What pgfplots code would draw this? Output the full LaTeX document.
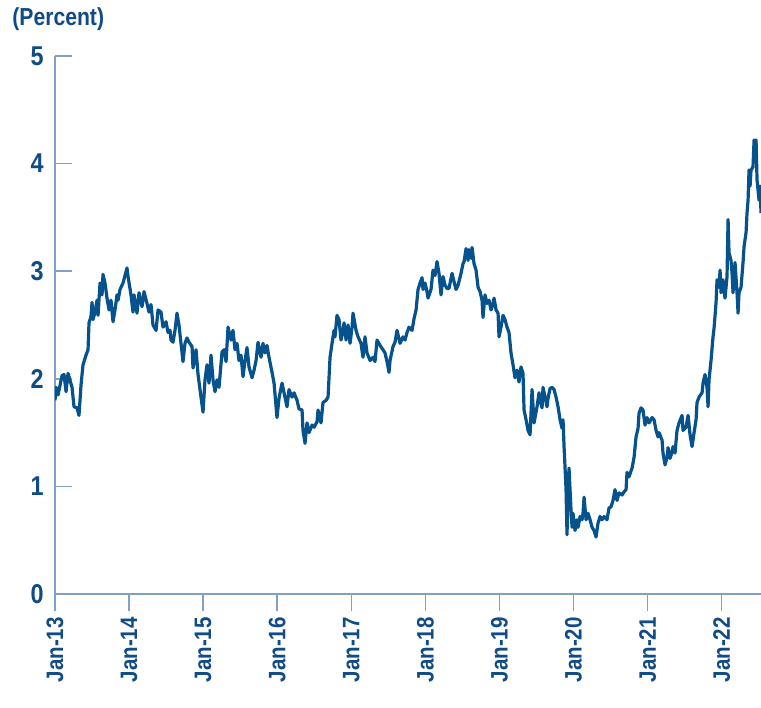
\documentclass[border=0pt]{standalone}
\usepackage{pgfplots}
\pgfplotsset{compat=1.18}
\usepackage{pgfplotstable}
\usepackage{fontspec}
\setmainfont{Liberation Sans}[FakeStretch=0.86]
\definecolor{txtblue}{RGB}{16,75,135}
\definecolor{lineblue}{RGB}{5,82,140}
\definecolor{axblue}{RGB}{128,160,202}
\pgfplotstableread{
x y
2013.000 1.80
2013.014 1.92
2013.041 1.85
2013.095 2.03
2013.122 2.04
2013.149 1.88
2013.176 2.05
2013.230 1.92
2013.257 1.74
2013.297 1.73
2013.324 1.66
2013.351 1.94
2013.378 2.13
2013.419 2.22
2013.446 2.27
2013.459 2.52
2013.486 2.58
2013.500 2.71
2013.513 2.55
2013.540 2.62
2013.567 2.73
2013.581 2.59
2013.608 2.89
2013.635 2.78
2013.648 2.97
2013.675 2.89
2013.702 2.75
2013.729 2.64
2013.756 2.73
2013.783 2.53
2013.810 2.64
2013.837 2.78
2013.851 2.73
2013.878 2.83
2013.918 2.89
2013.945 2.96
2013.972 3.03
2013.986 2.95
2014.026 2.78
2014.053 2.62
2014.067 2.78
2014.107 2.61
2014.134 2.80
2014.175 2.67
2014.202 2.81
2014.242 2.70
2014.269 2.62
2014.296 2.69
2014.323 2.50
2014.364 2.45
2014.391 2.64
2014.431 2.62
2014.458 2.48
2014.499 2.53
2014.526 2.43
2014.553 2.45
2014.566 2.36
2014.593 2.34
2014.620 2.45
2014.647 2.61
2014.674 2.50
2014.688 2.41
2014.728 2.16
2014.755 2.33
2014.782 2.38
2014.809 2.34
2014.850 2.30
2014.863 2.10
2014.904 2.27
2014.931 2.04
2014.971 1.83
2014.998 1.69
2015.025 1.99
2015.052 2.13
2015.079 1.96
2015.106 2.22
2015.133 1.99
2015.160 1.88
2015.187 1.99
2015.214 1.92
2015.255 2.25
2015.282 2.27
2015.309 2.16
2015.336 2.48
2015.376 2.36
2015.403 2.45
2015.430 2.27
2015.457 2.33
2015.484 2.17
2015.511 2.22
2015.538 2.02
2015.565 2.17
2015.592 2.29
2015.619 2.11
2015.660 2.01
2015.687 2.08
2015.714 2.17
2015.741 2.34
2015.781 2.20
2015.808 2.33
2015.835 2.24
2015.862 2.31
2015.889 2.20
2015.930 2.06
2015.957 1.96
2015.997 1.64
2016.024 1.82
2016.065 1.96
2016.092 1.87
2016.132 1.74
2016.159 1.90
2016.200 1.83
2016.227 1.87
2016.267 1.80
2016.294 1.72
2016.335 1.71
2016.348 1.52
2016.375 1.40
2016.402 1.59
2016.429 1.50
2016.470 1.57
2016.497 1.55
2016.537 1.60
2016.551 1.71
2016.591 1.59
2016.618 1.78
2016.659 1.80
2016.686 1.83
2016.713 2.20
2016.740 2.33
2016.767 2.45
2016.780 2.39
2016.807 2.59
2016.834 2.55
2016.861 2.36
2016.888 2.45
2016.902 2.52
2016.929 2.36
2016.956 2.50
2016.983 2.33
2017.010 2.48
2017.023 2.61
2017.064 2.45
2017.091 2.39
2017.131 2.33
2017.158 2.20
2017.185 2.39
2017.212 2.24
2017.253 2.17
2017.293 2.20
2017.320 2.16
2017.347 2.36
2017.388 2.31
2017.428 2.27
2017.455 2.24
2017.482 2.16
2017.509 2.06
2017.523 2.17
2017.563 2.30
2017.590 2.34
2017.617 2.45
2017.658 2.33
2017.698 2.39
2017.725 2.36
2017.752 2.43
2017.779 2.48
2017.820 2.45
2017.847 2.56
2017.874 2.64
2017.901 2.83
2017.928 2.89
2017.955 2.94
2017.968 2.83
2017.995 2.89
2018.022 2.81
2018.036 2.75
2018.076 2.83
2018.103 3.01
2018.130 2.96
2018.157 3.09
2018.184 2.98
2018.211 2.78
2018.238 2.95
2018.265 2.87
2018.292 2.84
2018.319 2.84
2018.360 2.98
2018.373 2.94
2018.414 2.83
2018.441 2.87
2018.481 2.98
2018.508 3.07
2018.522 3.09
2018.549 3.21
2018.576 3.10
2018.589 3.20
2018.616 3.12
2018.630 3.22
2018.657 3.07
2018.684 3.01
2018.711 2.85
2018.738 2.81
2018.765 2.73
2018.778 2.57
2018.805 2.78
2018.832 2.70
2018.859 2.73
2018.886 2.64
2018.913 2.70
2018.927 2.75
2018.954 2.64
2018.981 2.61
2018.994 2.39
2019.021 2.48
2019.048 2.59
2019.075 2.55
2019.102 2.48
2019.129 2.43
2019.156 2.24
2019.183 2.13
2019.210 2.01
2019.237 2.08
2019.264 1.97
2019.291 2.11
2019.318 2.05
2019.332 1.71
2019.359 1.62
2019.386 1.52
2019.413 1.48
2019.440 1.90
2019.467 1.59
2019.507 1.74
2019.534 1.87
2019.548 1.80
2019.575 1.73
2019.588 1.92
2019.615 1.83
2019.642 1.74
2019.656 1.82
2019.683 1.91
2019.710 1.92
2019.737 1.90
2019.764 1.83
2019.791 1.74
2019.818 1.62
2019.845 1.54
2019.858 1.62
2019.872 1.37
2019.885 1.18
2019.899 0.97
2019.912 0.55
2019.926 0.97
2019.939 1.17
2019.966 0.78
2019.980 0.62
2019.993 0.75
2020.020 0.59
2020.047 0.69
2020.061 0.62
2020.088 0.72
2020.115 0.69
2020.128 0.75
2020.142 0.90
2020.169 0.69
2020.196 0.75
2020.223 0.69
2020.250 0.62
2020.277 0.59
2020.304 0.53
2020.331 0.66
2020.358 0.72
2020.385 0.69
2020.412 0.72
2020.452 0.69
2020.479 0.80
2020.506 0.81
2020.533 0.87
2020.560 0.97
2020.587 0.87
2020.614 0.94
2020.655 0.92
2020.682 0.95
2020.709 0.97
2020.722 1.13
2020.749 1.09
2020.790 1.17
2020.817 1.27
2020.844 1.46
2020.871 1.54
2020.884 1.68
2020.911 1.73
2020.938 1.71
2020.965 1.57
2020.992 1.64
2021.019 1.59
2021.060 1.64
2021.087 1.62
2021.114 1.52
2021.141 1.46
2021.154 1.50
2021.195 1.43
2021.208 1.31
2021.235 1.20
2021.262 1.27
2021.276 1.36
2021.303 1.26
2021.330 1.32
2021.343 1.37
2021.370 1.31
2021.397 1.52
2021.424 1.59
2021.465 1.66
2021.478 1.52
2021.519 1.55
2021.546 1.66
2021.573 1.48
2021.600 1.37
2021.627 1.50
2021.654 1.62
2021.667 1.78
2021.694 1.83
2021.735 1.87
2021.748 1.96
2021.775 2.04
2021.802 1.92
2021.816 1.74
2021.829 1.99
2021.856 2.17
2021.883 2.39
2021.897 2.47
2021.924 2.71
2021.937 2.92
2021.964 2.85
2021.978 3.01
2021.991 2.80
2022.018 2.92
2022.032 2.83
2022.045 2.75
2022.072 2.95
2022.086 3.48
2022.099 3.17
2022.126 3.10
2022.140 2.98
2022.153 2.80
2022.180 3.08
2022.207 2.80
2022.221 2.61
2022.234 2.80
2022.261 2.85
2022.288 3.08
2022.302 3.23
2022.329 3.36
2022.342 3.54
2022.356 3.66
2022.369 3.94
2022.383 3.79
2022.396 3.94
2022.423 3.97
2022.437 4.22
2022.450 4.10
2022.464 4.22
2022.477 3.85
2022.504 3.66
2022.518 3.79
2022.531 3.54
}\yields
\begin{document}
\begin{tikzpicture}
\useasboundingbox (-27.5bp,-57bp) rectangle (353bp,297bp);
\begin{axis}[
  at={(0,0)}, anchor=south west,
  scale only axis, width=353bp, height=269bp,
  xmin=2013, xmax=2022.531, ymin=0, ymax=5,
  axis lines*=left,
  axis line style={draw=axblue, line width=0.75bp},
  every tick/.style={draw=axblue, line width=0.75bp},
  tick align=inside,
  major tick length=8.5bp,
  x tick style={yshift=-8.5bp},
  xtick={2013,2014,2015,2016,2017,2018,2019,2020,2021,2022},
  xticklabels={Jan-13,Jan-14,Jan-15,Jan-16,Jan-17,Jan-18,Jan-19,Jan-20,Jan-21,Jan-22},
  ytick={0,1,2,3,4,5},
  yticklabels={0,1,2,3,4,5},
  x tick label style={rotate=90, anchor=east, inner sep=0pt, font=\fontsize{11.9bp}{13bp}\selectfont\bfseries, text=txtblue},
  y tick label style={anchor=east, inner sep=0pt, font=\fontsize{13.6bp}{15bp}\selectfont\bfseries, text=txtblue},
  xticklabel shift=11.5bp,
  yticklabel shift=5.5bp,
  clip=true,
]
\addplot[lineblue, line width=1.6bp, line join=round] table[x=x,y=y] {\yields};
\end{axis}
\node[anchor=west, inner sep=0pt, text=txtblue, font=\fontsize{12.3bp}{14bp}\selectfont\bfseries] at (-21.5bp,287.5bp) {(Percent)};
\end{tikzpicture}
\end{document}
